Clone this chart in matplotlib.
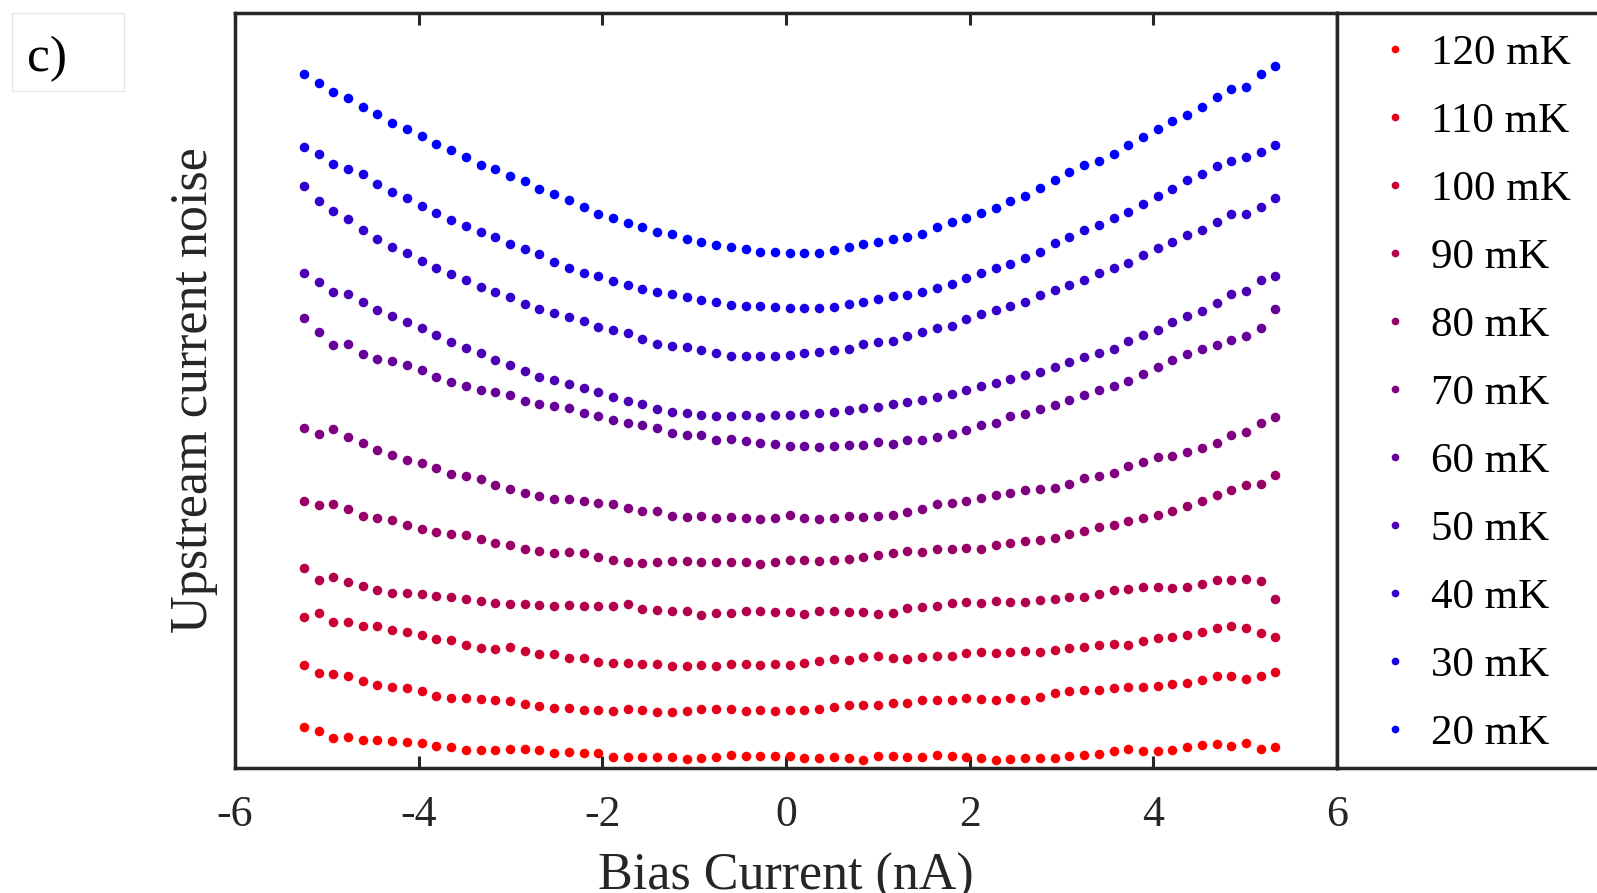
import numpy as np
import matplotlib
matplotlib.use("Agg")
import matplotlib.pyplot as plt
from matplotlib.patches import Rectangle

plt.rcParams['font.family'] = 'Liberation Serif'
plt.rcParams['axes.unicode_minus'] = False

# bias sweep, evenly stepped
bias = np.linspace(-5.25, 5.33, 67)

# noise traces (arbitrary units), one per fridge temperature
t20 = [69.3, 68.4, 67.5, 66.9, 66.0, 65.3, 64.4, 63.8, 63.1, 62.3, 61.7, 61.0, 60.2, 59.8, 59.1, 58.6, 57.8,
       57.3, 56.7, 56.0, 55.3, 54.9, 54.4, 54.0, 53.5, 53.3, 52.8, 52.5, 52.2, 52.0, 51.8, 51.5, 51.5,
       51.4, 51.4, 51.4, 51.7, 52.0, 52.3, 52.5, 52.8, 53.0, 53.3, 54.0, 54.5, 54.9, 55.4, 55.9, 56.6, 57.1,
       57.9, 58.7, 59.5, 60.2, 60.6, 61.3, 62.2, 63.0, 63.8, 64.6, 65.2, 66.0, 67.0, 67.8, 68.0, 69.3, 70.1]
t30 = [62.0, 61.3, 60.3, 59.8, 59.3, 58.3, 57.5, 56.9, 56.1, 55.4, 54.7, 54.1, 53.5, 53.0, 52.3, 51.8, 51.3,
       50.5, 49.9, 49.4, 49.1, 48.6, 48.2, 47.8, 47.5, 47.3, 47.0, 46.7, 46.5, 46.2, 46.1, 46.1, 46.0,
       45.9, 45.9, 45.9, 46.0, 46.3, 46.5, 46.8, 47.1, 47.2, 47.5, 47.9, 48.3, 48.9, 49.4, 49.9, 50.3, 50.9,
       51.5, 52.4, 53.0, 53.7, 54.2, 54.9, 55.5, 56.3, 57.1, 57.8, 58.7, 59.3, 60.1, 60.6, 61.0, 61.5, 62.2]
t40 = [58.1, 56.6, 55.6, 54.8, 53.7, 52.8, 52.0, 51.4, 50.6, 49.9, 49.3, 48.7, 48.0, 47.5, 47.0, 46.3, 45.8,
       45.4, 45.0, 44.6, 44.0, 43.7, 43.4, 42.8, 42.3, 42.1, 42.0, 41.7, 41.4, 41.1, 41.1, 41.1, 41.1,
       41.2, 41.4, 41.5, 41.7, 41.8, 42.3, 42.5, 42.6, 43.1, 43.5, 43.9, 44.1, 44.8, 45.3, 45.7, 46.1, 46.5,
       47.2, 47.7, 48.2, 48.7, 49.4, 49.9, 50.4, 51.2, 51.9, 52.5, 53.2, 53.7, 54.5, 55.3, 55.3, 56.0, 56.9]
t50 = [49.4, 48.5, 47.5, 47.3, 46.5, 45.7, 45.1, 44.5, 43.9, 43.2, 42.5, 41.9, 41.4, 40.7, 40.2, 39.6, 39.0,
       38.7, 38.3, 37.9, 37.5, 37.0, 36.6, 36.3, 35.8, 35.5, 35.4, 35.2, 35.1, 35.1, 35.2, 35.0, 35.2,
       35.2, 35.3, 35.4, 35.5, 35.7, 35.9, 36.0, 36.3, 36.5, 36.7, 37.0, 37.3, 37.7, 38.1, 38.4, 38.8, 39.2,
       39.5, 40.0, 40.5, 41.0, 41.4, 41.8, 42.6, 43.2, 43.7, 44.5, 45.1, 45.6, 46.4, 47.3, 47.6, 48.7, 49.1]
t60 = [44.9, 43.5, 42.2, 42.3, 41.3, 40.8, 40.6, 40.2, 39.7, 39.0, 38.5, 38.1, 37.7, 37.5, 37.2, 36.6, 36.3,
       36.1, 35.9, 35.4, 35.1, 34.7, 34.4, 34.2, 33.9, 33.4, 33.2, 33.2, 32.7, 32.8, 32.6, 32.4, 32.3,
       32.1, 32.1, 32.0, 32.1, 32.2, 32.2, 32.5, 32.3, 32.7, 32.7, 33.0, 33.3, 33.7, 34.2, 34.4, 35.1, 35.3,
       35.8, 36.2, 36.7, 37.2, 37.7, 38.1, 38.6, 39.3, 40.0, 40.7, 41.3, 41.8, 42.2, 42.7, 43.1, 43.9, 45.8]
t70 = [33.9, 33.3, 33.8, 33.0, 32.4, 31.7, 31.2, 30.7, 30.4, 29.9, 29.3, 29.1, 28.8, 28.2, 27.8, 27.4, 27.1,
       26.8, 26.8, 26.6, 26.4, 26.3, 25.9, 25.6, 25.6, 25.1, 25.0, 25.1, 24.9, 25.0, 24.9, 24.8, 24.9,
       25.2, 24.9, 24.8, 24.9, 25.1, 25.0, 25.1, 25.2, 25.5, 25.8, 26.3, 26.4, 26.6, 26.9, 27.2, 27.4, 27.7,
       27.8, 27.9, 28.3, 28.9, 29.1, 29.4, 30.1, 30.5, 31.0, 31.1, 31.5, 31.9, 32.4, 33.2, 33.5, 34.4, 35.0]
t80 = [26.6, 26.2, 26.3, 25.8, 25.1, 24.9, 24.7, 24.2, 23.8, 23.5, 23.3, 23.2, 22.8, 22.4, 22.2, 21.8, 21.6,
       21.4, 21.5, 21.4, 21.0, 20.7, 20.5, 20.4, 20.5, 20.6, 20.6, 20.5, 20.5, 20.5, 20.5, 20.3, 20.5,
       20.7, 20.7, 20.6, 20.7, 20.8, 21.0, 21.2, 21.4, 21.6, 21.5, 21.8, 21.8, 21.9, 21.8, 22.2, 22.4, 22.6,
       22.7, 22.9, 23.3, 23.6, 24.0, 24.2, 24.6, 24.9, 25.2, 25.6, 26.1, 26.6, 27.2, 27.7, 28.2, 28.3, 29.2]
t90 = [19.9, 18.7, 19.0, 18.5, 18.1, 17.7, 17.4, 17.4, 17.3, 17.1, 17.0, 16.8, 16.6, 16.4, 16.3, 16.3, 16.2,
       16.1, 16.2, 16.1, 16.1, 16.1, 16.3, 15.8, 15.7, 15.6, 15.6, 15.2, 15.4, 15.4, 15.6, 15.6, 15.5,
       15.5, 15.3, 15.6, 15.6, 15.5, 15.5, 15.3, 15.4, 15.9, 16.0, 16.1, 16.4, 16.5, 16.4, 16.6, 16.5, 16.5,
       16.7, 16.8, 17.0, 17.0, 17.3, 17.7, 17.8, 18.0, 18.0, 17.9, 18.0, 18.3, 18.7, 18.7, 18.8, 18.6, 16.8]
t100 = [15.0, 15.4, 14.5, 14.5, 14.1, 14.1, 13.7, 13.5, 13.2, 12.8, 12.7, 12.2, 11.9, 11.8, 12.0, 11.6, 11.3,
        11.3, 10.9, 10.9, 10.5, 10.4, 10.4, 10.3, 10.3, 10.1, 10.1, 10.2, 10.1, 10.3, 10.3, 10.2, 10.3,
        10.2, 10.4, 10.6, 10.8, 10.7, 11.0, 11.1, 10.9, 10.8, 11.0, 11.1, 11.1, 11.4, 11.5, 11.4, 11.5, 11.6,
        11.5, 11.7, 11.9, 12.0, 12.2, 12.3, 12.2, 12.6, 12.9, 13.0, 13.2, 13.5, 13.9, 14.1, 13.9, 13.4, 13.0]
t110 = [10.2, 9.4, 9.3, 9.1, 8.6, 8.2, 8.0, 7.9, 7.6, 7.1, 6.9, 6.9, 6.8, 6.7, 6.6, 6.3, 6.1,
        5.9, 5.9, 5.7, 5.7, 5.6, 5.8, 5.7, 5.5, 5.5, 5.6, 5.8, 5.8, 5.8, 5.6, 5.7, 5.6,
        5.7, 5.7, 5.8, 6.0, 6.2, 6.2, 6.2, 6.4, 6.4, 6.7, 6.7, 6.7, 6.9, 6.8, 6.7, 6.9, 6.7,
        7.0, 7.4, 7.6, 7.7, 7.7, 7.9, 8.0, 8.0, 8.1, 8.3, 8.4, 8.7, 9.1, 9.1, 8.8, 9.1, 9.5]
t120 = [4.0, 3.6, 2.9, 3.0, 2.7, 2.7, 2.6, 2.5, 2.4, 2.1, 2.0, 1.7, 1.7, 1.7, 1.8, 1.8, 1.7,
        1.4, 1.5, 1.4, 1.4, 1.0, 1.0, 1.0, 1.0, 1.0, 0.8, 0.9, 1.0, 1.2, 1.1, 1.1, 1.1,
        1.1, 0.9, 0.9, 1.0, 0.9, 0.7, 1.1, 1.1, 1.0, 1.0, 1.2, 1.1, 1.0, 0.9, 0.7, 0.8, 0.9,
        0.9, 0.9, 1.1, 1.2, 1.3, 1.6, 1.8, 1.6, 1.6, 1.7, 2.0, 2.2, 2.3, 2.1, 2.4, 1.8, 2.0]

temps = [20, 30, 40, 50, 60, 70, 80, 90, 100, 110, 120]
traces = [t20, t30, t40, t50, t60, t70, t80, t90, t100, t110, t120]

W, H = 1597, 893
fig = plt.figure(figsize=(W / 100, H / 100), dpi=100)

ax_l, ax_r, ax_t, ax_b = 235, 1337, 13.2, 767.5
ax = fig.add_axes([ax_l / W, 1 - ax_b / H, (ax_r - ax_l) / W, (ax_b - ax_t) / H])

# blue (cold) -> red (warm)
handles = []
for T, y in zip(temps, traces):
    f = (T - 20) / 100
    h, = ax.plot(bias, y, 'o', ms=6.9, mec='none', color=(f, 0, 1 - f), label=f'{T} mK')
    handles.append(h)

ax.set_xlim(-6, 6)
ax.set_ylim(-0.05, 75.38)
ax.set_xticks(range(-6, 7, 2))
ax.set_yticks([])
ax.tick_params(axis='x', direction='in', top=True, length=8.5, width=2.2,
               color='#262626', labelsize=31.5, labelcolor='#262626', pad=20)
for s in ax.spines.values():
    s.set_linewidth(2.5)
    s.set_color('#262626')

ax.set_xlabel('Bias Current (nA)', fontsize=37.5, color='#262626', labelpad=13)
ax.set_ylabel('Upstream current noise', fontsize=37.5, color='#262626', labelpad=12)

# legend panel to the right of the plot
lax = fig.add_axes([ax_r / W, 1 - ax_b / H, 0.3, (ax_b - ax_t) / H])
lax.set_xticks([])
lax.set_yticks([])
for s in lax.spines.values():
    s.set_linewidth(2.5)
    s.set_color('#262626')

fig.legend(handles[::-1], [h.get_label() for h in handles[::-1]],
           loc='upper left', bbox_to_anchor=(1378 / W, 1 - 34 / H), bbox_transform=fig.transFigure,
           frameon=False, borderpad=0, borderaxespad=0, handlelength=0.8, handletextpad=0.44,
           labelspacing=0.67, fontsize=31, markerscale=0.8)

# panel tag
fig.patches.append(Rectangle((12 / W, 1 - 91 / H), 112 / W, 78 / H, transform=fig.transFigure,
                             facecolor='white', edgecolor='#e6e6e6', lw=1))
fig.text(27 / W, 1 - 71 / H, 'c)', fontsize=37, ha='left', va='baseline')

fig.savefig('out.png', dpi=100)
